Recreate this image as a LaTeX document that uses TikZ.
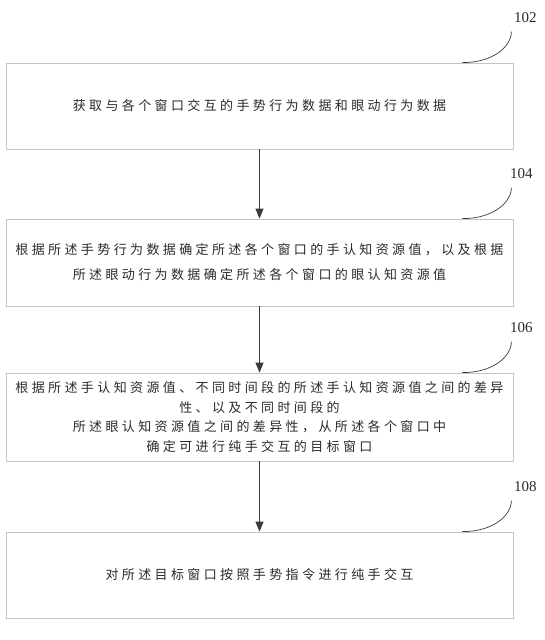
\documentclass[tikz,border=0pt]{standalone}
\usepackage{fontspec}
\setmainfont{Liberation Serif}
\newfontfamily\cjk[LetterSpace=26]{Noto Sans CJK SC}
\usetikzlibrary{arrows.meta}
\definecolor{boxgray}{HTML}{C4C4C4}
\definecolor{arrgray}{HTML}{3A3A3A}
\definecolor{txt}{HTML}{2A2A2A}
\begin{document}
\begin{tikzpicture}[x=1pt,y=1pt,
  box/.style={draw=boxgray, line width=0.8pt, minimum width=507pt, inner sep=0pt, align=center, text=txt},
  arr/.style={draw=arrgray, line width=1pt, -{Triangle[length=10pt,width=8pt]}},
  lead/.style={draw=arrgray, line width=0.7pt},
  num/.style={font=\fontsize{15}{15}\selectfont, text=txt}]
\useasboundingbox (0,0) rectangle (545,640);
\node[box, minimum height=86pt, font=\cjk\fontsize{13}{25}\selectfont] (b1) at (259.5,534)
  {获取与各个窗口交互的手势行为数据和眼动行为数据};
\node[box, minimum height=87pt, font=\cjk\fontsize{13}{25}\selectfont] (b2) at (259.5,377.5)
  {根据所述手势行为数据确定所述各个窗口的手认知资源值，以及根据\\所述眼动行为数据确定所述各个窗口的眼认知资源值};
\node[box, minimum height=88pt, font=\cjk\fontsize{13}{19.5}\selectfont] (b3) at (259.5,223)
  {根据所述手认知资源值、不同时间段的所述手认知资源值之间的差异\\性、以及不同时间段的\\所述眼认知资源值之间的差异性，从所述各个窗口中\\确定可进行纯手交互的目标窗口};
\node[box, minimum height=86pt, font=\cjk\fontsize{13}{25}\selectfont] (b4) at (259.5,65)
  {对所述目标窗口按照手势指令进行纯手交互};
\draw[arr] (b1) -- (b2);
\draw[arr] (b2) -- (b3);
\draw[arr] (b3) -- (b4);
\foreach \b/\n/\dx in {b1/102/12, b2/104/8, b3/106/8, b4/108/12}{
  \node[num] (l\n) at ([xshift=\dx pt,yshift=45pt]\b.north east) {\n};
  \coordinate (e\n) at ([xshift=-2pt,yshift=31pt]\b.north east);
  \draw[lead] ([xshift=-51pt]\b.north east) .. controls +(32,0) and +(0,-14) .. (e\n);
}
\end{tikzpicture}
\end{document}
